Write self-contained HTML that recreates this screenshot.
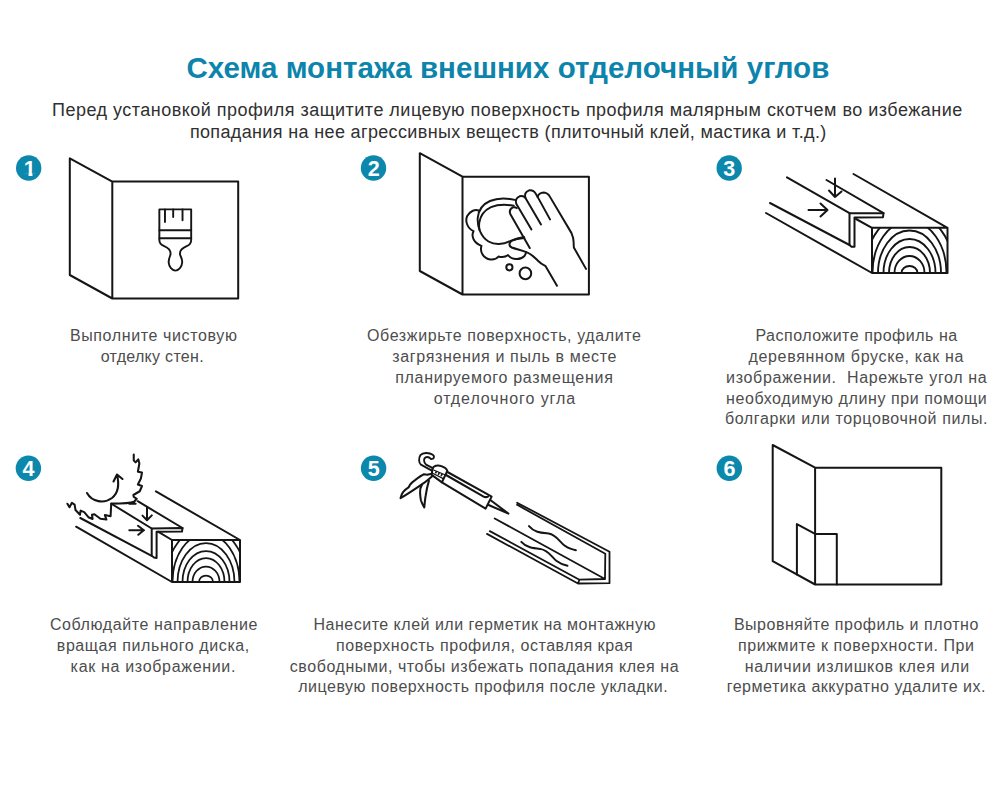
<!DOCTYPE html>
<html lang="ru">
<head>
<meta charset="utf-8">
<title>Схема монтажа внешних отделочный углов</title>
<style>
html,body{margin:0;padding:0;background:#fff;}
body{width:1000px;height:800px;position:relative;overflow:hidden;font-family:"Liberation Sans",sans-serif;}
#art{position:absolute;left:0;top:0;}
.ln{position:absolute;margin:0;white-space:pre;line-height:1;}
.h{font-size:29.5px;font-weight:bold;color:#0c84ab;}
.s{font-size:18px;color:#303030;font-weight:normal;}
.c{font-size:16px;color:#4d4d4d;font-weight:normal;}

</style>
</head>
<body>
<svg id="art" width="1000" height="800" viewBox="0 0 1000 800">
<g id="nums" font-family="Liberation Sans, sans-serif" font-weight="bold" font-size="21.5" fill="#fff" text-anchor="middle">
<circle cx="28.7" cy="168" r="12.7" fill="#0c88ad"/><text x="29.8" y="175.7">1</text><path d="M24.6 173.5 H28.55 V176.4 H24.6 Z M32.45 173.5 H36.4 V176.4 H32.45 Z" fill="#0c88ad"/>
<circle cx="373.5" cy="168" r="12.7" fill="#0c88ad"/><text x="373.7" y="175.7">2</text>
<circle cx="729.2" cy="168" r="12.7" fill="#0c88ad"/><text x="729.3" y="175.7">3</text>
<circle cx="28.4" cy="468.3" r="12.7" fill="#0c88ad"/><text x="28.4" y="476">4</text>
<circle cx="373.6" cy="468.3" r="12.7" fill="#0c88ad"/><text x="373.7" y="476">5</text>
<circle cx="729.3" cy="468.3" r="12.7" fill="#0c88ad"/><text x="729.4" y="476">6</text>
</g>
<g id="draw" fill="none" stroke="#151515" stroke-width="2" stroke-linejoin="round" stroke-linecap="round">
<!-- panel 1: wall corner + brush -->
<path d="M112.3 181.6 L238.2 181.6 L238.2 298.5 L112.3 298.5 Z M112.3 181.6 L69.8 158.4 L69.8 275 L112.3 298.5"/>
<g transform="translate(140,195) scale(0.1125)" stroke-width="17">
<path d="M172,128 L455,128 L455,400 C455,430 440,445 415,455 C380,470 355,490 355,520 C355,545 378,560 375,600 C372,640 345,672 315,672 C285,672 258,640 255,600 C252,560 272,545 272,520 C272,490 250,470 215,455 C190,445 172,430 172,400 Z"/>
<path d="M172,313 H455 M172,385 H455 M222,128 V240 M295,128 V195 M378,128 V225"/>
</g>
<!-- panel 2: wall corner + sponge + hand -->
<path d="M462.5 176.7 L588.9 176.7 L588.9 294.5 L462.5 294.5 Z M462.5 176.7 L419.8 153.2 L419.8 271 L462.5 294.5"/>
<g transform="translate(460,185) scale(0.1)" stroke-width="19.5">
<path d="M548,149 C470,130 370,130 300,160 C230,190 185,250 177,330 C172,420 210,520 285,565 C345,600 430,598 500,562 C550,540 600,525 640,520"/>
<path d="M538,207 C470,195 375,195 310,222 C250,250 205,305 193,375 C190,400 190,425 195,450"/>
<path d="M185,255 C150,240 95,265 72,310 C50,360 70,430 135,462 C110,510 135,580 215,608 C195,670 235,735 305,745 C345,748 370,735 385,715 C420,725 455,720 480,700 C520,750 600,755 645,710 C655,695 660,685 660,670"/>
</g>
<g transform="translate(505,180) scale(0.1125)" stroke-width="17.5">
<path d="M220,605 L48,305 Q30,262 70,243 Q92,238 105,250"/>
<path d="M235,440 L100,212 Q85,165 130,145 Q165,135 182,160 L320,395"/>
<path d="M182,160 Q165,110 215,92 Q255,88 275,125 L290,150"/>
<path d="M400,350 L290,150 Q300,115 345,112 Q380,115 400,150 L590,470 Q612,520 610,560 L612,600 L720,790"/>
<path d="M172,515 C130,518 90,525 62,540 C35,555 30,585 60,600 C100,615 150,625 200,645 C240,662 265,690 290,715 C315,740 340,755 361,766 L462,939"/>
</g>
<circle cx="509.4" cy="267.3" r="3.1"/><circle cx="525.4" cy="273.4" r="5.8"/>
<!-- panel 3: profile on wooden bar -->
<defs><clipPath id="w3"><rect x="872" y="227.8" width="75.5" height="45.2"/></clipPath><clipPath id="w4"><rect x="172" y="540" width="68" height="42"/></clipPath></defs>
<path d="M872 227.8 H947.5 V273 H872 Z M853.5 174 L947.5 227.8 M856 219 L872 227.8 M766 213 L872 273 M770 203 L849.5 245 M787 177.4 L849.5 213.2 M826.5 180 L883.5 213.2"/>
<path d="M849.5 213.2 L883.5 213.2 L883 217.2 L854.5 217.5 L854.5 246.8 L851.5 246.8 L849.5 245 Z"/>
<path d="M835 178.5 V197 M829 190.5 L835 197 L841.5 191.5 M808.5 210 H827.5 M820.5 203.5 L827.5 210 L820.5 216.5"/>
<g clip-path="url(#w3)" stroke-width="1.85">
<ellipse cx="909.5" cy="273" rx="8" ry="7"/><ellipse cx="909.5" cy="273" rx="15" ry="17"/><ellipse cx="909.5" cy="273" rx="20.5" ry="26"/><ellipse cx="909.5" cy="273" rx="26" ry="34"/><ellipse cx="909.5" cy="273" rx="31.5" ry="42.5"/><ellipse cx="909.5" cy="273" rx="37" ry="52"/><ellipse cx="909.5" cy="273" rx="45" ry="60"/>
</g>
<!-- panel 4: saw direction -->
<path d="M172 540 H240 V582 H172 Z M155.9 491.4 L240 540 M158 531.7 L172 540 M76.1 526.7 L172 582 M80.3 518 L151.7 555.8 M111.8 504 L151.7 528.5 M137.7 501.2 L182.5 528"/>
<path d="M151.7 528.5 L182.5 528 L182 531.5 L156.6 531.7 L156.6 557.9 L154 557.5 L151.7 555.8 Z"/>
<path d="M147 507.5 V520.1 M142.5 515.6 L147 520.3 L151.8 515.4 M129.3 530.3 H144 M138 525.8 L143.8 530.3 L138.3 534.8"/>
<g clip-path="url(#w4)" stroke-width="1.75">
<ellipse cx="206" cy="582" rx="7" ry="6.5"/><ellipse cx="206" cy="582" rx="13.5" ry="15.5"/><ellipse cx="206" cy="582" rx="18.5" ry="24"/><ellipse cx="206" cy="582" rx="23.5" ry="31"/><ellipse cx="206" cy="582" rx="28.5" ry="39"/><ellipse cx="206" cy="582" rx="33.5" ry="48"/><ellipse cx="206" cy="582" rx="40.4" ry="54.7"/>
</g>
<g transform="translate(62,495) scale(0.06)" stroke-width="34">
<path d="M820,145 L810,355 L715,335 L740,410 L640,395 L540,320 L500,330 L510,400 L440,370 L370,285 L310,260 L300,330 L225,250 L210,160 L165,130 L125,205 L90,145"/>
</g>
<g transform="translate(115,450) scale(0.075)" stroke-width="27.5">
<path d="M250,60 L250,140 L275,165 L310,125 L325,180 L305,290 L360,300 L345,380 L305,460 L360,480 L330,550 L245,600 L250,625 L290,650 L255,690 Q200,715 -50,715 M190,716 H275"/>
</g>
<g transform="translate(60,445) scale(0.1)" stroke-width="21">
<path d="M270,480 C320,570 440,590 520,530 C570,490 600,420 570,295 M535,365 L570,295 L625,340"/>
</g>
<!-- panel 5: caulk gun + profile -->
<g transform="translate(395,445) scale(0.12)" stroke-width="17">
<path d="M303,211 L216,164 C198,149 195,113 212,84 C230,62 283,60 315,81 C333,96 326,117 301,117 C290,106 273,96 255,103 C237,113 237,142 259,164 L315,193" stroke-width="15.5"/>
<path d="M312,197 C322,174 354,164 386,176 C414,186 432,202 436,216 L391,312 L306,249 Z"/>
<path d="M437,225 L765,408 L805,430 L755,530 L391,312"/>
<path d="M425,250 L735,428 Q755,440 775,430"/>
<path d="M800,462 L945,572 L780,500"/>
<path d="M336,224 L400,256" stroke-width="22" stroke-dasharray="13 13" stroke-linecap="butt"/>
<path d="M322,208 L420,250 M314,236 L402,280" stroke-width="10"/>
<path d="M297,241 L269,248 L241,244 C225,252 195,272 170,290 C155,300 135,318 124,333 L113,354 C100,362 80,378 67,393 C58,405 50,425 46,443 C92,418 177,361 248,312 C275,292 300,270 312,259"/>
<path d="M225,330 C212,350 208,375 209,397 C210,420 212,445 216,460 C222,480 232,500 244,520 C246,500 250,455 255,425 C260,390 270,340 283,297"/>
</g>
<path d="M517.1 502.7 L609.5 551.7 V583.2 L578 583.5 L487 533.9 M517.1 504.8 L605.3 553.8 L605 579 L579.4 579.7 L489.8 531.1 M494.7 518.5 L605 579 M578 583.5 L579.4 579.7" stroke-width="1.8"/>
<g transform="translate(480,495) scale(0.14)" stroke-width="14">
<path d="M350,222 C390,270 440,270 490,275 C550,285 570,340 610,365 C635,385 660,390 685,395"/>
<path d="M295,335 C330,375 380,380 430,385 C490,395 510,440 545,470 C570,490 600,500 625,505"/>
</g>
<!-- panel 6: installed profile -->
<path d="M815.1 467.7 H941.3 V584.5 H815.1 Z M815.1 467.7 L772.7 445 V561.2 L815.1 584.5"/>
<path d="M796.9 574.6 V524.1 L815.1 533.9 H836.8 V584.5"/>
</g>
</svg>
<h1 class="ln h" style="left:186.4px;top:53.2px;letter-spacing:0.036px">Схема монтажа внешних отделочный углов</h1>
<p class="ln s" style="left:52.0px;top:100.6px;letter-spacing:0.483px">Перед установкой профиля защитите лицевую поверхность профиля малярным скотчем во избежание</p>
<p class="ln s" style="left:189.9px;top:123.0px;letter-spacing:0.354px">попадания на нее агрессивных веществ (плиточный клей, мастика и т.д.)</p>
<p class="ln c" style="left:69.9px;top:328.3px;letter-spacing:0.623px">Выполните чистовую</p>
<p class="ln c" style="left:100.7px;top:349.0px;letter-spacing:0.300px">отделку стен.</p>
<p class="ln c" style="left:367.0px;top:328.3px;letter-spacing:0.626px">Обезжирьте поверхность, удалите</p>
<p class="ln c" style="left:392.3px;top:349.0px;letter-spacing:0.643px">загрязнения и пыль в месте</p>
<p class="ln c" style="left:395.2px;top:369.7px;letter-spacing:0.710px">планируемого размещения</p>
<p class="ln c" style="left:433.7px;top:390.5px;letter-spacing:0.914px">отделочного угла</p>
<p class="ln c" style="left:755.4px;top:328.3px;letter-spacing:0.510px">Расположите профиль на</p>
<p class="ln c" style="left:748.5px;top:349.0px;letter-spacing:0.662px">деревянном бруске, как на</p>
<p class="ln c" style="left:726.1px;top:369.7px;letter-spacing:0.660px">изображении.  Нарежьте угол на</p>
<p class="ln c" style="left:726.1px;top:390.5px;letter-spacing:0.582px">необходимую длину при помощи</p>
<p class="ln c" style="left:724.9px;top:410.9px;letter-spacing:0.629px">болгарки или торцовочной пилы.</p>
<p class="ln c" style="left:49.9px;top:616.7px;letter-spacing:0.603px">Соблюдайте направление</p>
<p class="ln c" style="left:56.8px;top:637.7px;letter-spacing:0.579px">вращая пильного диска,</p>
<p class="ln c" style="left:70.6px;top:658.6px;letter-spacing:0.680px">как на изображении.</p>
<p class="ln c" style="left:313.5px;top:616.7px;letter-spacing:0.500px">Нанесите клей или герметик на монтажную</p>
<p class="ln c" style="left:336.0px;top:637.7px;letter-spacing:0.554px">поверхность профиля, оставляя края</p>
<p class="ln c" style="left:289.8px;top:658.6px;letter-spacing:0.562px">свободными, чтобы избежать попадания клея на</p>
<p class="ln c" style="left:298.2px;top:679.1px;letter-spacing:0.511px">лицевую поверхность профиля после укладки.</p>
<p class="ln c" style="left:733.9px;top:616.7px;letter-spacing:0.507px">Выровняйте профиль и плотно</p>
<p class="ln c" style="left:738.1px;top:637.7px;letter-spacing:0.582px">прижмите к поверхности. При</p>
<p class="ln c" style="left:744.7px;top:658.6px;letter-spacing:0.659px">наличии излишков клея или</p>
<p class="ln c" style="left:726.7px;top:679.1px;letter-spacing:0.514px">герметика аккуратно удалите их.</p>
</body>
</html>
